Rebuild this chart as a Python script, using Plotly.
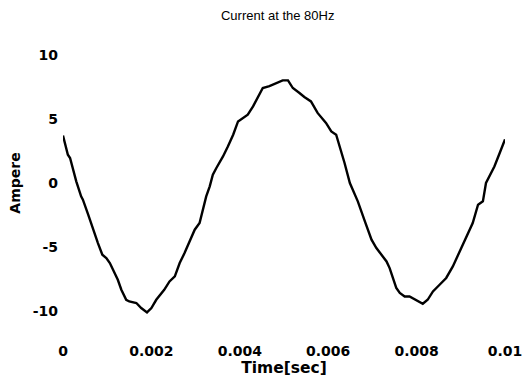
import plotly.graph_objects as go

# Time [sec]
time_s = [0.0, 0.00011, 0.00016, 0.00026, 0.00030, 0.00041, 0.00045, 0.00057, 0.00068, 0.00079,
          0.00089, 0.00098, 0.00106, 0.00117, 0.00124, 0.00132, 0.00143, 0.00150, 0.00166, 0.00177,
          0.00190, 0.00200, 0.00211, 0.00229, 0.00241, 0.00253, 0.00264, 0.00275, 0.00286, 0.00298,
          0.00309, 0.00316, 0.00324, 0.00332, 0.00339, 0.00347, 0.00362, 0.00373, 0.00385, 0.00396,
          0.00407, 0.00418, 0.00430, 0.00441, 0.00452, 0.00467, 0.00482, 0.00497, 0.00509, 0.00520,
          0.00535, 0.00546, 0.00561, 0.00576, 0.00595, 0.00607, 0.00618, 0.00626, 0.00637, 0.00649,
          0.00656, 0.00667, 0.00683, 0.00698, 0.00709, 0.00720, 0.00732, 0.00739, 0.00746, 0.00754,
          0.00762, 0.00773, 0.00784, 0.00799, 0.00814, 0.00825, 0.00837, 0.00852, 0.00867, 0.00882,
          0.00897, 0.00912, 0.00927, 0.00939, 0.00950, 0.00957, 0.00969, 0.00976, 0.00988, 0.01000]

# Current [A]
current_a = [3.7, 2.2, 1.95, 0.51, 0.13, -1.04, -1.3, -2.47, -3.64, -4.68,
             -5.59, -5.85, -6.24, -7.01, -7.54, -8.32, -9.1, -9.23, -9.35, -9.74,
             -10.08, -9.74, -9.1, -8.32, -7.67, -7.28, -6.24, -5.46, -4.55, -3.64,
             -3.12, -2.08, -1.04, -0.26, 0.65, 1.17, 2.07, 2.85, 3.76, 4.8,
             5.07, 5.32, 5.97, 6.75, 7.4, 7.55, 7.79, 8.0, 8.0, 7.4,
             7.01, 6.7, 6.36, 5.46, 4.68, 4.02, 3.76, 2.85, 1.56, 0.0,
             -0.52, -1.43, -2.99, -4.42, -5.07, -5.59, -6.11, -6.63, -7.4, -8.18,
             -8.57, -8.84, -8.84, -9.1, -9.41, -9.1, -8.45, -7.93, -7.4, -6.5,
             -5.33, -4.16, -3.12, -1.69, -1.43, 0.0, 0.9, 1.29, 2.34, 3.4]

x_tickvals = [0, 0.002, 0.004, 0.006, 0.008, 0.01]
x_ticktext = ["0", "0.002", "0.004", "0.006", "0.008", "0.01"]
y_tickvals = [-10, -5, 0, 5, 10]
y_ticktext = ["-10", "-5", "0", "5", "10"]

bold_font = "DejaVu Sans, sans-serif"

fig = go.Figure()
fig.add_trace(go.Scatter(x=time_s, y=current_a, mode="lines",
                         line=dict(color="black", width=2.4), showlegend=False))

fig.update_layout(
    width=524, height=379,
    margin=dict(l=63, r=19, t=29, b=42),
    paper_bgcolor="white", plot_bgcolor="white",
    font=dict(family="Liberation Sans, Arial, sans-serif", color="black"),
    title=dict(text="Current at the 80Hz", x=0.53, xanchor="center", y=0.96, yanchor="middle",
               font=dict(size=13, color="black")),
    xaxis=dict(range=[0, 0.01], tickvals=x_tickvals, ticktext=x_ticktext,
               showgrid=False, zeroline=False, showline=False, ticks="",
               ticklabelstandoff=4, automargin=False,
               tickfont=dict(family=bold_font, size=14, weight="bold"),
               title=dict(text="Time[sec]", font=dict(family=bold_font, size=15.5, weight="bold"),
                          standoff=4)),
    yaxis=dict(range=[-12, 12], tickvals=y_tickvals, ticktext=y_ticktext,
               showgrid=False, zeroline=False, showline=False, ticks="",
               ticklabelstandoff=4, automargin=False,
               tickfont=dict(family=bold_font, size=14, weight="bold"),
               title=dict(text="Ampere", font=dict(family=bold_font, size=14, weight="bold"),
                          standoff=8)),
)

fig.write_html("out.html")
